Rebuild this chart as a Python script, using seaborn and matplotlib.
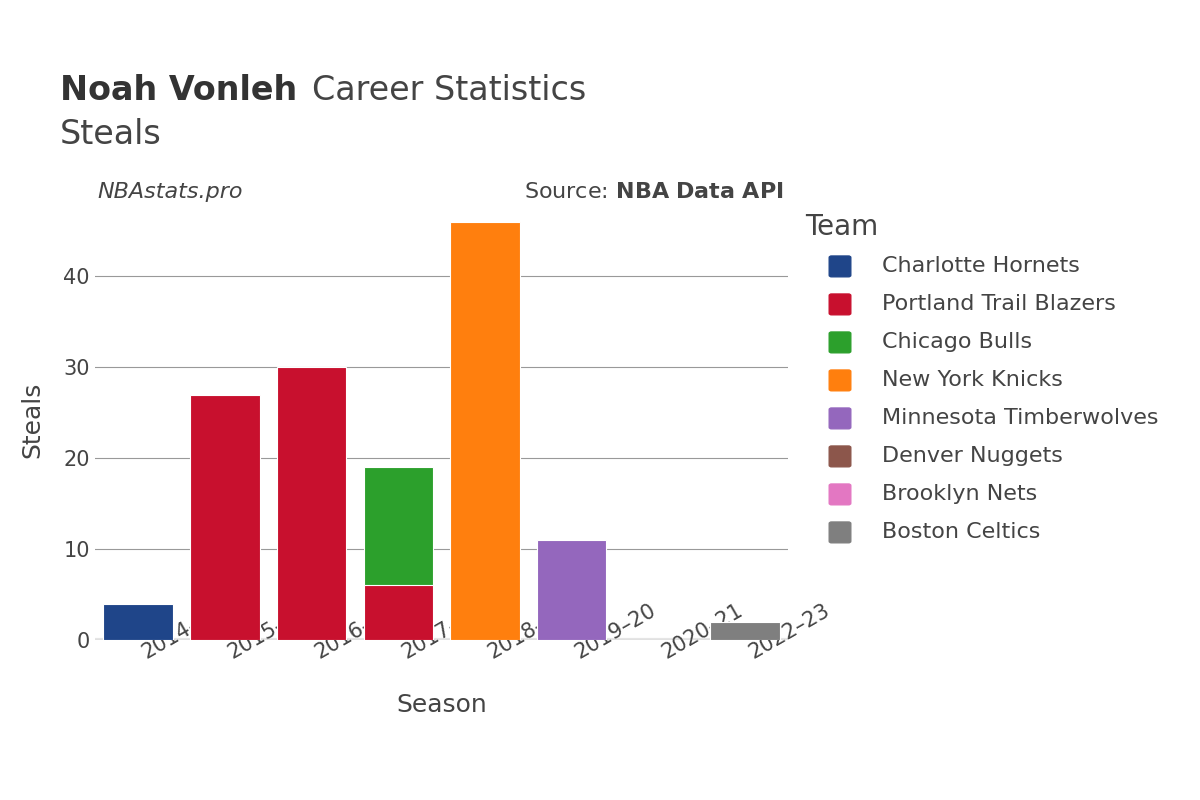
import matplotlib
matplotlib.use("Agg")
import matplotlib.pyplot as plt
import seaborn as sns
import pandas as pd

seasons = ["2014–15", "2015–16", "2016–17", "2017–18", "2018–19", "2019–20", "2020–21", "2022–23"]
teams = ["Charlotte Hornets", "Portland Trail Blazers", "Chicago Bulls", "New York Knicks",
         "Minnesota Timberwolves", "Denver Nuggets", "Brooklyn Nets", "Boston Celtics"]
colors = ["#1f4589", "#c8102e", "#2ca02c", "#ff7f0e", "#9467bd", "#8c564b", "#e377c2", "#7f7f7f"]
# (season, team, steals) in stacking order
rec_season = ["2014–15", "2015–16", "2016–17", "2017–18", "2017–18", "2018–19", "2019–20", "2019–20", "2020–21", "2022–23"]
rec_team = ["Charlotte Hornets", "Portland Trail Blazers", "Portland Trail Blazers", "Portland Trail Blazers",
            "Chicago Bulls", "New York Knicks", "Minnesota Timberwolves", "Denver Nuggets", "Brooklyn Nets", "Boston Celtics"]
rec_steals = [4, 27, 30, 6, 13, 46, 11, 0, 0, 2]

df = pd.DataFrame({"season": rec_season, "team": rec_team, "steals": rec_steals})
df["top"] = df.groupby("season")["steals"].cumsum()
pal = dict(zip(teams, colors))

fig = plt.figure(figsize=(12, 8), dpi=100)
ax = fig.add_axes([0.079, 0.2, 0.578, 0.55])
ax.set_axisbelow(True)
ax.grid(axis="y", color="#999999", lw=0.8)
# draw upper (cumulative) segments first, then lower ones on top
df["rank"] = df.groupby("season").cumcount()
for r in sorted(df["rank"].unique(), reverse=True):
    sub = df[df["rank"] == r]
    sns.barplot(data=sub, x="season", y="top", hue="team", palette=pal, order=seasons,
                hue_order=teams, dodge=False, width=0.8, ax=ax, legend=False,
                edgecolor="white", linewidth=0.8, saturation=1)
ax.set_ylim(0, 48.4)
ax.set_xlim(-0.5, 7.5)
ax.axhline(0, color="#e5e5e5", lw=3, zorder=0)
for s in ax.spines.values():
    s.set_visible(False)
ax.tick_params(length=0, labelsize=15, colors="#444444")
ax.set_yticks([0, 10, 20, 30, 40])
plt.setp(ax.get_xticklabels(), rotation=30, ha="left", rotation_mode="anchor")
ax.set_xlabel("Season", fontsize=18, color="#444444", labelpad=22)
ax.set_ylabel("Steals", fontsize=18, color="#444444", labelpad=14)

fig.text(0.05, 0.875, "Noah Vonleh", fontsize=24, fontweight="bold", color="#333333")
fig.text(0.26, 0.875, "Career Statistics", fontsize=24, color="#444444")
fig.text(0.05, 0.82, "Steals", fontsize=24, color="#444444")
fig.text(0.081, 0.752, "NBAstats.pro", fontsize=16, style="italic", color="#444444")
fig.text(0.653, 0.752, "Source: $\\bf{NBA\\ Data\\ API}$", fontsize=16, color="#444444", ha="right")

fig.text(0.671, 0.706, "Team", fontsize=20, color="#444444")
for i, (t, c) in enumerate(zip(teams, colors)):
    y = 0.667 - i * 0.0475
    fig.patches.append(matplotlib.patches.FancyBboxPatch((0.693, y - 0.011), 0.014, 0.022,
                       boxstyle="round,pad=0.002", transform=fig.transFigure, color=c, figure=fig))
    fig.text(0.735, y, t, fontsize=16, color="#444444", va="center")

fig.savefig("out.png", dpi=100)
